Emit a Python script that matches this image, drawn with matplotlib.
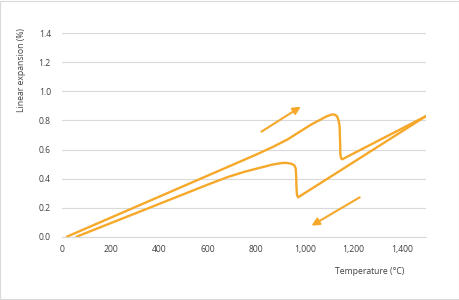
import matplotlib
matplotlib.use("Agg")
import matplotlib.pyplot as plt
from matplotlib.ticker import FuncFormatter
from matplotlib.patches import Rectangle

# Heating curve (°C, %)
heat_t = [20, 400, 800, 869, 930, 980, 1030, 1062, 1090, 1110, 1121,
          1133, 1140, 1144, 1146, 1147, 1150, 1155, 1500]
heat_v = [0.0, 0.275, 0.565, 0.618, 0.67, 0.723, 0.775, 0.803, 0.828,
          0.84, 0.842, 0.83, 0.80, 0.76, 0.65, 0.57, 0.54, 0.533, 0.83]

# Cooling curve
cool_t = [1500, 973, 968, 966, 965, 963, 958, 946, 925, 905, 869, 815, 750, 680, 600, 60]
cool_v = [0.83, 0.271, 0.29, 0.35, 0.42, 0.47, 0.49, 0.502, 0.508, 0.507, 0.497, 0.474,
          0.446, 0.409, 0.358, 0.0]

# Arrows (tail -> tip)
arrow_heat = [(822, 0.723), (984, 0.895)]
arrow_cool = [(1227, 0.271), (1028, 0.076)]

y_ticks = [0.0, 0.2, 0.4, 0.6, 0.8, 1.0, 1.2, 1.4]
x_ticks = [0, 200, 400, 600, 800, 1000, 1200, 1400]

color = "#F5A82A"
plt.rcParams['font.family'] = ['Open Sans', 'DejaVu Sans']

fig = plt.figure(figsize=(4.6, 3.0), dpi=100)
ax = fig.add_axes([62/460, 1-236.7/300, (426-62)/460, (236.7-33.3)/300])

ax.plot(heat_t, heat_v, color=color, lw=1.7, solid_joinstyle='round', solid_capstyle='round')
ax.plot(cool_t, cool_v, color=color, lw=1.7, solid_joinstyle='round', solid_capstyle='round')

for (t0, v0), (t1, v1) in [arrow_heat, arrow_cool]:
    ax.annotate("", xy=(t1, v1), xytext=(t0, v0),
                arrowprops=dict(arrowstyle="-|>,head_length=0.45,head_width=0.22",
                                color=color, lw=1.5, shrinkA=0, shrinkB=0))

ax.set_xlim(0, 1500)
ax.set_ylim(0, 1.4)
ax.set_yticks(y_ticks)
ax.set_xticks(x_ticks)
ax.yaxis.set_major_formatter(FuncFormatter(lambda v, p: f"{v:.1f}"))
ax.xaxis.set_major_formatter(FuncFormatter(lambda v, p: f"{int(v):,}"))
ax.tick_params(length=0, labelsize=6.2, labelcolor="#404040")
ax.tick_params(axis='y', pad=8)
ax.tick_params(axis='x', pad=6)
ax.grid(axis='y', color="#D9D9D9", lw=0.8)
ax.set_axisbelow(True)
for s in ["top", "right", "left"]:
    ax.spines[s].set_visible(False)
ax.spines["bottom"].set_color("#D9D9D9")
ax.spines["bottom"].set_linewidth(0.8)

fig.text(22/460, 1-70/300, "Linear expansion (%)", rotation=90, ha="center", va="center",
         fontsize=6.2, color="#404040")
fig.text(370/460, 1-272/300, "Temperature (°C)", ha="center", va="center",
         fontsize=6.2, color="#404040")

fig.patches.append(Rectangle((0.001, 0.002), 0.997, 0.995, transform=fig.transFigure,
                             fill=False, edgecolor="#D9D9D9", lw=0.8))

fig.savefig("out.png", dpi=100)
